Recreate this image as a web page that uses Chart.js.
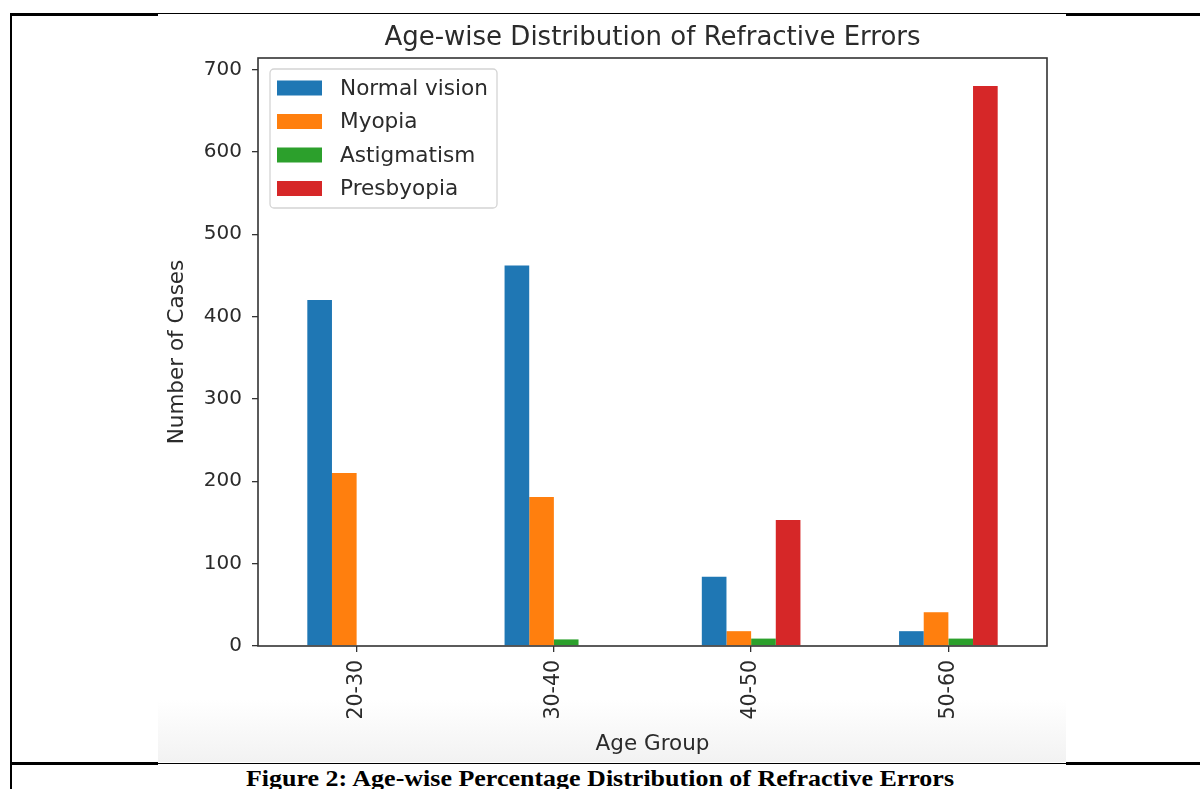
<!DOCTYPE html>
<html>
<head>
<meta charset="utf-8">
<title>Age-wise Distribution of Refractive Errors</title>
<script src="https://cdn.jsdelivr.net/npm/chart.js@4.4.1/dist/chart.umd.min.js"></script>
<style>
    html, body { margin: 0; padding: 0; background: #fff; }
    body { width: 1200px; height: 789px; position: relative; overflow: hidden; }
    .rule { position: absolute; background: #000; }
    #shade {
        position: absolute; left: 158px; top: 700px; width: 908px; height: 62px;
        background: linear-gradient(to bottom, rgba(246,246,246,0), rgba(242,242,242,1));
    }
    #shot { position: absolute; left: 158px; top: 14px; width: 908px; height: 748px; }
    #caption {
        position: absolute; left: 0; top: 767px; width: 1200px; text-align: center;
        font-family: "Liberation Serif", "Times New Roman", serif; font-weight: bold;
        font-size: 23px; line-height: 24px; color: #000; white-space: nowrap;
        transform: scaleX(1.13); transform-origin: 600px 0;
    }
</style>
</head>
<body>
<!-- table cell borders around the pasted figure -->
<div class="rule" style="left:10px; top:13px; width:148px; height:2.5px;"></div>
<div class="rule" style="left:158px; top:13px; width:908px; height:1.3px;"></div>
<div class="rule" style="left:1066px; top:13px; width:134px; height:2.5px;"></div>
<div class="rule" style="left:10px; top:13px; width:2px; height:776px;"></div>
<div class="rule" style="left:10px; top:762px; width:148px; height:2.5px;"></div>
<div class="rule" style="left:158px; top:762.5px; width:908px; height:1.3px;"></div>
<div class="rule" style="left:1066px; top:762px; width:134px; height:2.5px;"></div>
<div id="shade"></div>
<div id="shot"><canvas id="chart"></canvas></div>
<div id="caption">Figure 2: Age-wise Percentage Distribution of Refractive Errors</div>

<script>
    const ageGroups = ['20-30', '30-40', '40-50', '50-60'];
    const normalVision = [420, 462, 84, 18];
    const myopia = [210, 181, 18, 41];
    const astigmatism = [0, 8, 9, 9];
    const presbyopia = [0, 0, 153, 680];
    const yTicks = [0, 100, 200, 300, 400, 500, 600, 700];

    const FONT = "'DejaVu Sans', sans-serif";
    const INK = '#2b2b2b';

    // matplotlib-style legend box in the upper left of the plot
    const legendBox = {
        id: 'legendBox',
        afterDatasetsDraw(chart) {
            const ctx = chart.ctx, a = chart.chartArea;
            const x = a.left + 12, y = a.top + 11, w = 227, h = 139;
            ctx.save();
            ctx.fillStyle = 'rgba(255,255,255,0.85)';
            ctx.strokeStyle = '#d4d4d4';
            ctx.lineWidth = 1.3;
            ctx.beginPath();
            ctx.roundRect(x, y, w, h, 4);
            ctx.fill();
            ctx.stroke();
            ctx.font = '21.6px ' + FONT;
            ctx.textBaseline = 'middle';
            chart.data.datasets.forEach(function (ds, i) {
                const cy = y + 19 + i * 33.5;
                ctx.fillStyle = ds.backgroundColor;
                ctx.fillRect(x + 7, cy - 7.5, 45, 15);
                ctx.fillStyle = INK;
                ctx.fillText(ds.label, x + 70, cy + 1);
            });
            ctx.restore();
        }
    };

    // full box around the axes
    const frame = {
        id: 'frame',
        afterDraw(chart) {
            const ctx = chart.ctx, a = chart.chartArea;
            ctx.save();
            ctx.strokeStyle = '#333';
            ctx.lineWidth = 1.6;
            ctx.strokeRect(a.left, a.top, a.right - a.left, a.bottom - a.top);
            ctx.restore();
        }
    };

    function series(label, data, color) {
        return {
            label: label,
            data: data,
            backgroundColor: color,
            borderWidth: 0,
            categoryPercentage: 0.5,
            barPercentage: 1.0
        };
    }

    new Chart(document.getElementById('chart').getContext('2d'), {
        type: 'bar',
        data: {
            labels: ageGroups,
            datasets: [
                series('Normal vision', normalVision, '#1f77b4'),
                series('Myopia', myopia, '#ff7f0e'),
                series('Astigmatism', astigmatism, '#2ca02c'),
                series('Presbyopia', presbyopia, '#d62728')
            ]
        },
        options: {
            responsive: true,
            maintainAspectRatio: false,
            animation: false,
            layout: { padding: { left: 0, right: 19, top: 0, bottom: 0 } },
            plugins: {
                legend: { display: false },
                tooltip: { enabled: false },
                title: {
                    display: true,
                    fullSize: false,
                    text: 'Age-wise Distribution of Refractive Errors',
                    color: INK,
                    font: { family: FONT, size: 26, weight: 'normal' },
                    padding: { top: 8.4, bottom: 4.4 }
                }
            },
            scales: {
                x: {
                    grid: { offset: false, drawOnChartArea: false, drawTicks: true, tickLength: 6, color: '#333', lineWidth: 1.3 },
                    border: { display: false },
                    ticks: {
                        color: INK, font: { family: FONT, size: 20.5 },
                        minRotation: 90, maxRotation: 90, padding: 8
                    },
                    title: {
                        display: true, text: 'Age Group', color: INK,
                        font: { family: FONT, size: 21.5 }, padding: { top: 2, bottom: 5 }
                    },
                    afterFit: function (s) { s.height = 116; }
                },
                y: {
                    min: 0,
                    max: 714,
                    grid: { drawOnChartArea: false, drawTicks: true, tickLength: 6, color: '#333', lineWidth: 1.3 },
                    border: { display: false },
                    ticks: { color: INK, font: { family: FONT, size: 20 }, padding: 10 },
                    afterBuildTicks: function (s) { s.ticks = yTicks.map(function (v) { return { value: v }; }); },
                    title: {
                        display: true, text: 'Number of Cases', color: INK,
                        font: { family: FONT, size: 21.5 }, padding: { top: 7, bottom: 4 }
                    },
                    afterFit: function (s) { s.width = 100; }
                }
            }
        },
        plugins: [legendBox, frame]
    });
</script>
</body>
</html>
